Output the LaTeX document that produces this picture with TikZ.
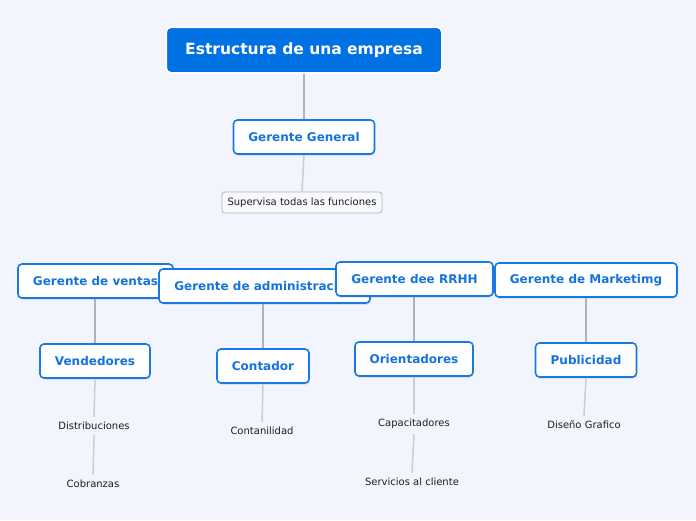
\documentclass[tikz,border=0pt]{standalone}
\usepackage{fontspec}
\setmainfont{DejaVu Sans}
\usetikzlibrary{shadows}
\definecolor{bgc}{RGB}{242,245,253}
\definecolor{rootblue}{RGB}{0,113,227}
\definecolor{boxblue}{RGB}{24,121,226}
\definecolor{txtblue}{RGB}{20,115,222}
\definecolor{linegray}{RGB}{178,178,181}
\definecolor{lightline}{RGB}{204,205,211}
\definecolor{subgray}{RGB}{180,182,188}
\definecolor{subfill}{RGB}{248,249,252}
\definecolor{darktxt}{RGB}{30,30,35}
\tikzset{
  rootbox/.style={draw=white, line width=2pt, fill=rootblue, rounded corners=5pt,
    text=white, font=\fontsize{15.5}{18}\selectfont\bfseries, inner sep=0pt},
  topic/.style={draw=boxblue, line width=1.6pt, fill=white, rounded corners=4pt,
    text=txtblue, font=\fontsize{12}{14}\selectfont\bfseries, inner sep=0pt,
    minimum height=34pt,
    drop shadow={opacity=0.25, shadow xshift=0.6pt, shadow yshift=-1.5pt}},
  subbox/.style={draw=subgray, line width=0.8pt, fill=subfill, rounded corners=3pt,
    text=darktxt, font=\fontsize{10}{12}\selectfont, inner sep=0pt,
    minimum height=21pt},
  leaf/.style={text=darktxt, font=\fontsize{10}{12}\selectfont, inner xsep=0pt, inner ysep=5pt},
  mainline/.style={draw=linegray, line width=1.5pt},
  leafline/.style={draw=lightline, line width=1.5pt}
}
\begin{document}
\begin{tikzpicture}[x=1pt,y=-1pt]
\useasboundingbox (0,0) rectangle (696,520);
\fill[bgc] (0,0) rectangle (696,520);

\node[rootbox, minimum width=276pt, minimum height=46pt] (root) at (304,50) {Estructura de una empresa};
\node[topic, minimum width=141pt] (gg) at (304,137) {Gerente General};
\node[subbox, minimum width=160pt] (sup) at (302,202.5) {Supervisa todas las funciones};

\node[topic, minimum width=155pt] (ventas) at (95.5,281) {Gerente de ventas};
\node[topic, minimum width=211pt] (admin) at (264.5,286) {Gerente de administración};
\node[topic, minimum width=157pt] (rrhh) at (414.5,279) {Gerente dee RRHH};
\node[topic, minimum width=182pt] (mkt) at (586,280) {Gerente de Marketimg};

\node[topic, minimum width=110pt] (vend) at (95,361) {Vendedores};
\node[topic, minimum width=92pt] (cont) at (263,366) {Contador};
\node[topic, minimum width=118pt] (orie) at (414,359) {Orientadores};
\node[topic, minimum width=101pt] (publ) at (586,360) {Publicidad};

\node[leaf] (dist) at (94,426) {Distribuciones};
\node[leaf] (cobr) at (93,484) {Cobranzas};
\node[leaf] (conta) at (262,431) {Contanilidad};
\node[leaf] (capa) at (414,424) {Capacitadores};
\node[leaf] (serv) at (412,482) {Servicios al cliente};
\node[leaf] (dise) at (584,425) {Diseño Grafico};

\draw[mainline] (root.south) -- (gg.north);
\draw[leafline] (gg.south) -- (sup.north);
\draw[mainline] (ventas.south -| vend.north) -- (vend.north);
\draw[mainline] (admin.south -| cont.north) -- (cont.north);
\draw[mainline] (rrhh.south -| orie.north) -- (orie.north);
\draw[mainline] (mkt.south -| publ.north) -- (publ.north);
\draw[leafline] (vend.south) -- (dist.north);
\draw[leafline] (dist.south) -- (cobr.north);
\draw[leafline] (cont.south) -- (conta.north);
\draw[leafline] (orie.south) -- (capa.north);
\draw[leafline] (capa.south) -- (serv.north);
\draw[leafline] (publ.south) -- (dise.north);
\end{tikzpicture}
\end{document}
